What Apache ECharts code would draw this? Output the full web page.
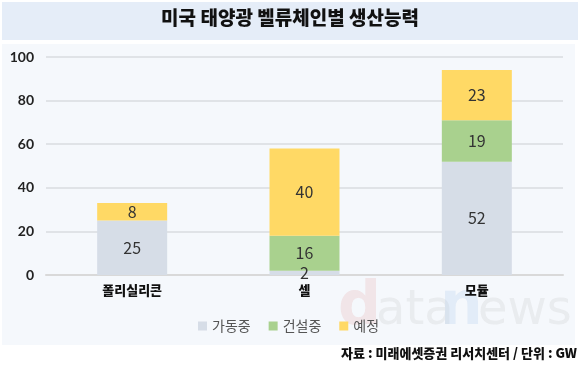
<!DOCTYPE html>
<html><head><meta charset="utf-8">
<script src="https://cdn.jsdelivr.net/npm/echarts@6/dist/echarts.min.js"></script>
<style>html,body{margin:0;padding:0;background:#fff;}#c{width:580px;height:373px;}</style>
</head><body><div id="c"></div>
<script>
var categories = ['폴리실리콘', '셀', '모듈'];
var operating = [25, 2, 52];
var construction = [null, 16, 19];
var planned = [8, 40, 23];
var seriesNames = ['가동중', '건설중', '예정'];
var yTicks = [0, 20, 40, 60, 80, 100];
var colors = ['#d6dde7', '#a9d18e', '#ffd965'];

var chart = echarts.init(document.getElementById('c'));
var font = '"Noto Sans CJK KR", "Noto Sans", sans-serif';
function mk(name, data, color) {
  return {
    name: name, type: 'bar', stack: 'a', data: data, barWidth: 70,
    itemStyle: { color: color },
    label: { show: true, position: 'inside', color: '#333', fontSize: 16, fontFamily: font,
      formatter: function (p) { return p.value == null ? '' : p.value; } },
    emphasis: { disabled: true }
  };
}
chart.setOption({
  animation: false,
  textStyle: { fontFamily: font },
  graphic: [
    { type: 'rect', shape: { x: 2, y: 2, width: 576, height: 38 }, style: { fill: '#e5edf8' }, z: -10 },
    { type: 'rect', shape: { x: 2, y: 44, width: 573, height: 301 }, style: { fill: '#f5f8fc' }, z: -10 },
    { type: 'text', left: 'center', top: 8, style: { text: '미국 태양광 벨류체인별 생산능력', font: '900 19px ' + font, fill: '#111' } },
    { type: 'text', right: 3, top: 347, style: { text: '자료 : 미래에셋증권 리서치센터 / 단위 : GW', font: '900 13px ' + font, fill: '#111' } },
    { type: 'text', left: 338, top: 278, z: -5, style: { text: 'd', font: 'bold 60px "DejaVu Sans", sans-serif', fill: 'rgba(230,170,170,0.25)' } },
    { type: 'text', left: 376, top: 288, z: -5, style: { text: 'ata', font: '48px "DejaVu Sans", sans-serif', fill: 'rgba(200,200,200,0.25)' } },
    { type: 'text', left: 440, top: 278, z: -5, style: { text: 'n', font: 'bold 60px "DejaVu Sans", sans-serif', fill: 'rgba(170,200,235,0.25)' } },
    { type: 'text', left: 478, top: 288, z: -5, style: { text: 'ews', font: '48px "DejaVu Sans", sans-serif', fill: 'rgba(200,200,200,0.25)' } }
  ],
  legend: {
    data: seriesNames, left: 193, top: 314, itemWidth: 9, itemHeight: 9, itemGap: 18,
    icon: 'rect', textStyle: { fontSize: 14, color: '#555', fontFamily: font }
  },
  grid: { left: 46, right: 17, top: 57, bottom: 98 },
  xAxis: {
    type: 'category', data: categories,
    axisLine: { lineStyle: { color: '#d9d9d9', width: 2 } }, axisTick: { show: false },
    axisLabel: { color: '#111', fontWeight: 900, fontSize: 13, margin: 9, fontFamily: font }
  },
  yAxis: {
    type: 'value', min: 0, max: 100, interval: 20,
    axisLine: { show: false }, axisTick: { show: false },
    axisLabel: { color: '#222', fontSize: 14, fontWeight: 'bold', margin: 12, fontFamily: '"Lato", "Noto Sans", sans-serif',
      formatter: function (v) { return yTicks.indexOf(v) >= 0 ? v : ''; } },
    splitLine: { lineStyle: { color: '#e0e3e7', width: 2 } }
  },
  series: [mk(seriesNames[0], operating, colors[0]), mk(seriesNames[1], construction, colors[1]), mk(seriesNames[2], planned, colors[2])]
});
</script></body></html>
